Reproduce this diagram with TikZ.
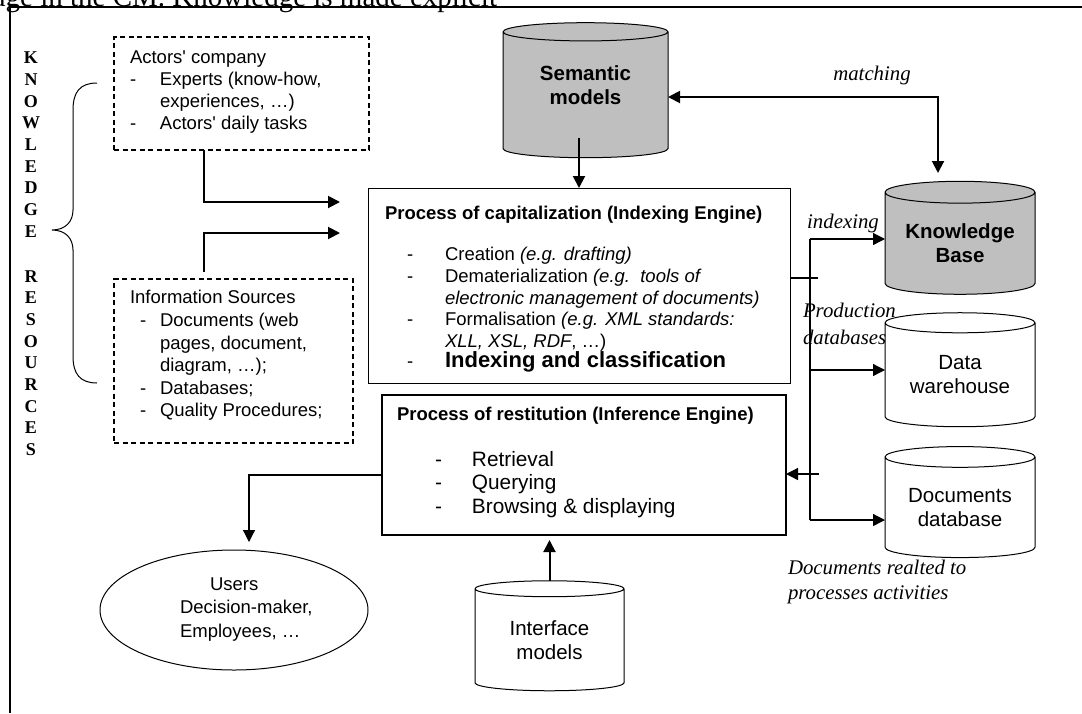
\documentclass[tikz,border=0pt]{standalone}
\usepackage{fontspec}
\setmainfont{Liberation Sans}[Ligatures=TeXOff]
\newfontfamily\serifrm{Liberation Serif}
\usetikzlibrary{positioning,arrows.meta,calc,shapes.geometric}

\newcommand{\bodyfont}{\fontsize{18.5}{22}\selectfont}
\newcommand{\dbfont}{\fontsize{20.5}{24}\selectfont}
\newcommand{\tagfont}{\serifrm\itshape\fontsize{20.8}{25}\selectfont}
\newcommand{\dashitem}[1]{\makebox[#1][l]{-}}

\begin{document}
\begin{tikzpicture}[x=1pt, y=-1pt,
  >={Triangle[length=12pt,width=12pt]},
  every node/.style={inner sep=0pt, outer sep=0pt},
  srcbox/.style={draw, line width=1.6pt, dash pattern=on 5pt off 3.5pt, anchor=north west},
  procbox/.style={draw, line width=1pt, anchor=north west},
  dbase/.style={cylinder, shape border rotate=90, draw, line width=1pt, aspect=0.2,
    align=center, font=\dbfont},
  kbase/.style={dbase, fill=black!25, font=\dbfont\bfseries},
  txt/.style={font=\bodyfont, align=left, anchor=north west},
  tag/.style={font=\tagfont, align=left},
  link/.style={line width=2pt, ->},
  thinlink/.style={line width=1.3pt, ->}
]
  \useasboundingbox (0,0) rectangle (1082,713);

  % page frame and the cut line of text above it
  \draw[line width=1.2pt] (10,713) -- (10,7) -- (1082,7);
  \node[anchor=base east, font=\serifrm\fontsize{29}{29}\selectfont] (pagetext) at (497,6)
    {edge in the CM. Knowledge is made explicit};

  % knowledge resources
  \node[anchor=north, align=center, font=\serifrm\bfseries\fontsize{18}{21.7}\selectfont] (kr) at (31,52)
    {K\\N\\O\\W\\L\\E\\D\\G\\E\\[23pt]R\\E\\S\\O\\U\\R\\C\\E\\S};
  \draw[line width=1pt] (97,83) .. controls (80,83) and (73,92) .. (73,110) -- (73,210)
    .. controls (73,222) and (65,230) .. (52,230)
    .. controls (65,230) and (73,238) .. (73,250) -- (73,356)
    .. controls (73,374) and (80,383) .. (97,383);

  \node[srcbox, minimum width=255, minimum height=113] (actors) at (114,37) {};
  \node[txt] (actorstxt) at ($(actors.north west)+(16,13.5)$)
    {Actors' company\\\dashitem{30pt}Experts (know-how,\\\hspace*{30pt}experiences, …)\\\dashitem{30pt}Actors' daily tasks};

  \node[srcbox, minimum width=239, minimum height=164] (sources) at (114,279) {};
  \node[txt, font=\fontsize{18.5}{22.6}\selectfont] (sourcestxt) at ($(sources.north west)+(16,11.5)$)
    {Information Sources\\\hspace*{10pt}\dashitem{20pt}Documents (web\\\hspace*{30pt}pages, document,\\\hspace*{30pt}diagram, …);\\\hspace*{10pt}\dashitem{20pt}Databases;\\\hspace*{10pt}\dashitem{20pt}Quality Procedures;};

  % indexing engine
  \node[procbox, minimum width=422, minimum height=195] (cap) at (368,188) {};
  \node[anchor=west, font=\bodyfont\bfseries] (captitle) at ($(cap.north west)+(17,27)$)
    {Process of capitalization (Indexing Engine)};
  \node[txt, font=\fontsize{18.5}{21.6}\selectfont] (capitems) at ($(cap.north west)+(39,59.5)$)
    {\dashitem{38pt}Creation \textit{(e.g. drafting)}\\
     \dashitem{38pt}Dematerialization \textit{(e.g.\ \ tools of}\\
     \hspace*{38pt}\textit{electronic management of documents)}\\
     \dashitem{38pt}Formalisation \textit{(e.g. XML standards:}\\
     \hspace*{38pt}\textit{XLL, XSL, RDF}, …)\\[-1.3pt]
     \dashitem{38pt}{\fontsize{22}{24}\selectfont\bfseries Indexing and classification}};

  % inference engine
  \node[procbox, line width=1.3pt, minimum width=404, minimum height=140] (rest) at (382,395) {};
  \node[anchor=west, font=\bodyfont\bfseries] (resttitle) at ($(rest.north west)+(15,21)$)
    {Process of restitution (Inference Engine)};
  \node[txt, font=\fontsize{20.8}{23.5}\selectfont] (restitems) at ($(rest.north west)+(53,56.3)$)
    {\dashitem{37pt}Retrieval\\\dashitem{37pt}Querying\\\dashitem{37pt}Browsing \& displaying};

  % databases
  \node[kbase, minimum width=165, minimum height=135] (sem) at (585.5,95) {Semantic\\models\\[-4pt]\mbox{}};
  \node[kbase, minimum width=150, minimum height=113] (kb) at (960,243.5) {Knowledge\\Base};
  \node[dbase, minimum width=150, minimum height=114] (dw) at (960,375) {Data\\warehouse};
  \node[dbase, minimum width=150, minimum height=111] (dd) at (960,507.5) {Documents\\database};
  \node[dbase, minimum width=149, minimum height=110] (im) at (549.5,640) {Interface\\models};

  % users
  \node[ellipse, draw, line width=1pt, minimum width=268, minimum height=120] (users) at (234,610) {};
  \node[txt, font=\fontsize{18.5}{23.5}\selectfont] (userstxt) at (180,577.5)
    {\hspace*{30pt}Users\\Decision-maker,\\Employees, …};

  % labels
  \node[tag] (matchlbl) at (872,75) {matching};
  \node[tag] (indexlbl) at (843,223) {indexing};
  \node[tag, anchor=north west, font=\serifrm\itshape\fontsize{20.8}{27}\selectfont] (prodlbl) at (803,303.5)
    {Production\\databases};
  \node[tag, anchor=north west] (doclbl) at (788,560.5) {Documents realted to\\processes activities};

  % resources into the indexing engine
  \coordinate (capin1) at (340,202);
  \coordinate (capin2) at (340,233);
  \coordinate (srcout) at (204,272);
  \draw[link] ($(actors.south west)+(90,0)$) |- (capin1);
  \draw[link] (srcout) |- (capin2);

  % semantic models and matching
  \draw[link] ($(sem.south -| cap.north)+(0,-20)$) -- (cap.north);
  \coordinate (kbin) at (938,173);
  \coordinate (matchout) at (668,97);
  \draw[link, <->] (matchout -| sem.east) -| (kbin);

  % indexing and production databases
  \coordinate (capout) at (818,278);
  \coordinate (bus) at (810,239);
  \coordinate (busend) at (810,520);
  \draw[line width=1.3pt] (capout -| cap.east) -- (capout);
  \draw[line width=1.3pt] (bus) -- (busend);
  \draw[thinlink] (bus) -- (bus -| kb.west);
  \draw[thinlink] (810,370) -- (810,370 -| dw.west);
  \draw[thinlink] (busend) -- (busend -| dd.west);
  \coordinate (restin) at (819,474);
  \draw[thinlink] (restin) -- (restin -| rest.east);

  % out to the users, in from the interface models
  \coordinate (usersin) at (249,542);
  \draw[thinlink, line width=1.2pt] ($(rest.north west)+(0,80)$) -| (usersin);
  \draw[link] (im.north) -- ($(im.north |- rest.south)+(0,5)$);
\end{tikzpicture}
\end{document}
